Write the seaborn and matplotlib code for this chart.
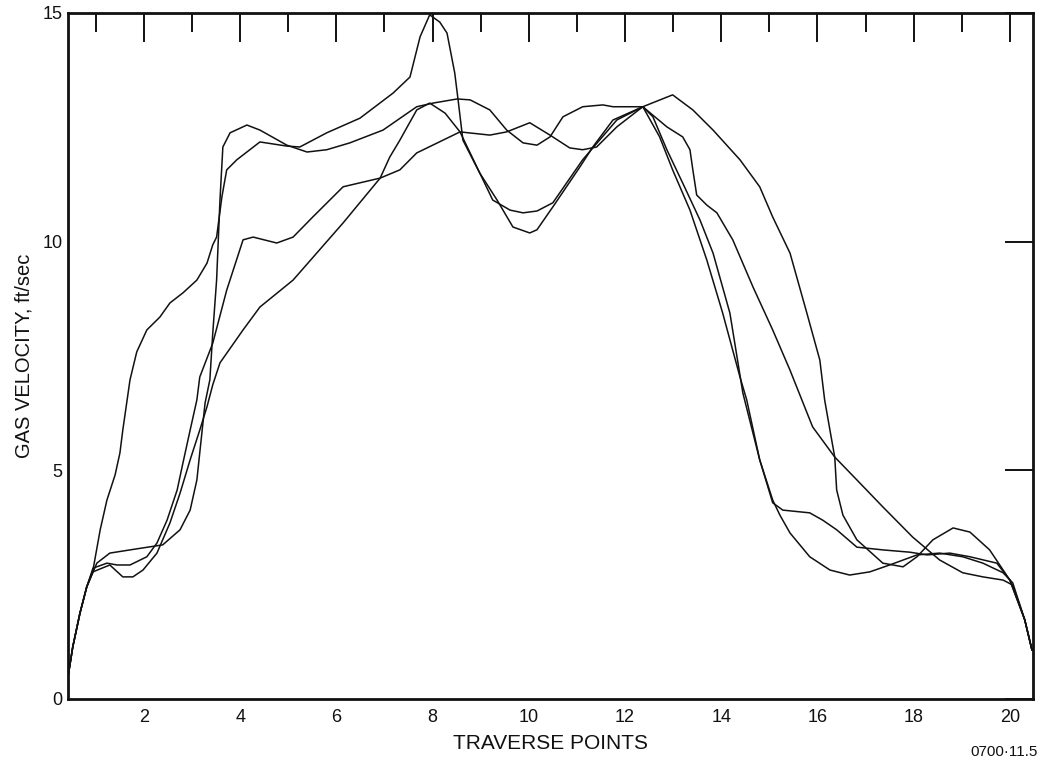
import pandas as pd
import numpy as np
import matplotlib
matplotlib.use('Agg')
import matplotlib.pyplot as plt
import seaborn as sns

# gas velocity traverse readings, four runs (ft/sec vs traverse point)
run1_x = [0.42, 0.52, 0.67, 0.81, 0.94, 1.09, 1.23, 1.40, 1.50, 1.56, 1.71, 1.85, 2.06, 2.33, 2.54, 2.81,
          3.10, 3.31, 3.43, 3.51, 3.62, 3.72, 3.93, 4.41, 4.97, 5.24, 5.80, 6.49, 7.18, 7.53, 7.74, 7.94,
          8.15, 8.30, 8.46, 8.53, 8.63, 8.98, 9.34, 9.67, 10.02, 10.17, 10.50, 11.06, 11.33, 11.75, 12.37,
          12.58, 12.87, 13.20, 13.56, 13.83, 14.18, 14.45, 14.80, 15.07, 15.22, 15.43, 15.84, 16.26, 16.67,
          17.09, 17.50, 18.07, 18.54, 19.02, 19.44, 19.86, 20.06, 20.31, 20.46]
run1_y = [0.48, 1.14, 1.88, 2.45, 2.82, 3.70, 4.35, 4.90, 5.38, 5.88, 6.98, 7.59, 8.07, 8.35, 8.66, 8.88,
          9.16, 9.53, 9.93, 10.10, 10.98, 11.57, 11.79, 12.18, 12.09, 12.07, 12.38, 12.70, 13.25, 13.60, 14.48, 14.96,
          14.80, 14.56, 13.69, 13.10, 12.22, 11.50, 10.91, 10.32, 10.19, 10.26, 10.76, 11.63, 12.07, 12.66, 12.95,
          12.73, 12.01, 11.28, 10.47, 9.75, 8.44, 6.69, 5.23, 4.35, 4.02, 3.63, 3.11, 2.82, 2.71,
          2.78, 2.93, 3.15, 3.19, 3.11, 2.97, 2.76, 2.54, 1.73, 1.07]

run2_x = [0.42, 0.52, 0.67, 0.81, 1.02, 1.29, 1.71, 2.39, 2.75, 2.96, 3.10, 3.21, 3.27, 3.37, 3.43, 3.51,
          3.58, 3.64, 3.79, 4.14, 4.41, 4.97, 5.39, 5.80, 6.28, 6.97, 7.67, 8.01, 8.51, 8.78, 9.19, 9.54,
          9.88, 10.17, 10.44, 10.71, 11.12, 11.54, 11.75, 12.37,
          12.99, 13.41, 13.83, 14.39, 14.80, 15.07, 15.43, 15.78, 16.05, 16.15, 16.26, 16.36, 16.40, 16.53,
          16.82, 17.36, 17.78, 18.07, 18.40, 18.82, 19.17, 19.58, 20.00, 20.31, 20.46]
run2_y = [0.48, 1.14, 1.88, 2.45, 2.97, 3.19, 3.26, 3.37, 3.70, 4.13, 4.79, 5.88, 6.47, 6.98, 8.00, 9.16,
          10.91, 12.07, 12.38, 12.55, 12.44, 12.11, 11.96, 12.01, 12.16, 12.44, 12.95, 13.03, 13.12, 13.10, 12.88, 12.44,
          12.16, 12.11, 12.29, 12.73, 12.95, 12.99, 12.95, 12.95,
          13.21, 12.88, 12.44, 11.79, 11.20, 10.54, 9.75, 8.44, 7.41, 6.54, 5.88, 5.29, 4.57, 4.02,
          3.48, 2.97, 2.89, 3.11, 3.48, 3.74, 3.65, 3.26, 2.60, 1.73, 1.07]

run3_x = [0.42, 0.52, 0.67, 0.81, 0.94, 1.29, 1.56, 1.77, 1.98, 2.27, 2.54, 2.75, 2.96, 3.16, 3.31, 3.43,
          3.58, 4.06, 4.41, 5.10, 6.14, 6.91, 7.11, 7.32, 7.67, 7.94, 8.26, 8.57, 9.25, 9.61, 9.88, 10.17,
          10.50, 11.12, 11.83, 12.37,
          12.87, 13.20, 13.35, 13.41, 13.49, 13.70, 13.91, 14.24, 14.66, 15.07, 15.43, 15.90, 16.36, 16.82,
          17.36, 17.98, 18.54, 19.02, 19.44, 19.86, 20.06, 20.31, 20.46]
run3_y = [0.48, 1.14, 1.88, 2.45, 2.78, 2.93, 2.67, 2.67, 2.82, 3.19, 3.85, 4.50, 5.23, 5.88, 6.39, 6.87,
          7.35, 8.07, 8.57, 9.16, 10.41, 11.39, 11.85, 12.22, 12.88, 13.03, 12.81, 12.40, 10.91, 10.69, 10.63, 10.67,
          10.85, 11.79, 12.66, 12.95,
          12.51, 12.29, 12.01, 11.57, 11.02, 10.80, 10.63, 10.04, 9.01, 8.07, 7.19, 5.95, 5.29, 4.79,
          4.20, 3.54, 3.04, 2.76, 2.67, 2.60, 2.49, 1.73, 1.07]

run4_x = [0.42, 0.52, 0.67, 0.81, 0.94, 1.23, 1.44, 1.71, 2.06, 2.27, 2.48, 2.69, 2.81, 2.96, 3.10, 3.16,
          3.43, 3.72, 4.06, 4.27, 4.76, 5.10, 5.51, 6.14, 6.91, 7.32, 7.67, 8.57, 9.19, 9.54, 10.02, 10.44,
          10.85, 11.12, 11.41, 11.83, 12.37,
          12.72, 12.99, 13.35, 13.70, 14.03, 14.39, 14.53, 14.80, 15.07, 15.28, 15.84, 16.11, 16.40, 16.82,
          17.36, 17.92, 18.28, 18.75, 19.17, 19.73, 20.00, 20.31, 20.46]
run4_y = [0.48, 1.14, 1.88, 2.45, 2.86, 2.97, 2.93, 2.93, 3.11, 3.41, 3.91, 4.57, 5.16, 5.88, 6.54, 7.04,
          7.78, 8.94, 10.04, 10.10, 9.97, 10.10, 10.54, 11.20, 11.39, 11.57, 11.94, 12.40, 12.33, 12.40, 12.60, 12.33,
          12.05, 12.01, 12.07, 12.51, 12.95,
          12.29, 11.57, 10.69, 9.60, 8.44, 7.04, 6.54, 5.23, 4.29, 4.13, 4.07, 3.91, 3.70, 3.32,
          3.26, 3.21, 3.15, 3.19, 3.11, 2.97, 2.60, 1.73, 1.07]

# axis ticks
x_major = [2, 4, 6, 8, 10, 12, 14, 16, 18, 20]
x_minor = [1, 3, 5, 7, 9, 11, 13, 15, 17, 19]
y_major = [0, 5, 10, 15]

# long form table for seaborn
frames = []
for name, xs, ys in [('run 1', run1_x, run1_y), ('run 2', run2_x, run2_y),
                     ('run 3', run3_x, run3_y), ('run 4', run4_x, run4_y)]:
    frames.append(pd.DataFrame({'point': xs, 'velocity': ys, 'run': name}))
traverse = pd.concat(frames, ignore_index=True)

sns.set_style('white')
plt.rcParams['font.family'] = ['Liberation Sans', 'DejaVu Sans']

fig = plt.figure(figsize=(10.44, 7.64), dpi=100)
ax = fig.add_axes([0.0651, 0.0851, 0.9243, 0.8979])

sns.lineplot(data=traverse, x='point', y='velocity', units='run', estimator=None,
             sort=False, color='#111111', linewidth=1.1, ax=ax)

ax.set_xlim(0.42, 20.48)
ax.set_ylim(0, 15)
ax.set_xticks(x_major)
ax.set_xticks(x_minor, minor=True)
ax.set_yticks(y_major)

ax.tick_params(axis='x', which='major', direction='in', length=21, width=1.4,
               top=True, labelsize=13, pad=7, colors='#111111')
ax.tick_params(axis='x', which='minor', direction='in', length=14, width=1.4, top=True, colors='#111111')
ax.tick_params(axis='y', which='major', direction='in', length=20, width=1.4,
               right=True, labelsize=13, pad=4, colors='#111111')

for side in ['left', 'right', 'top', 'bottom']:
    ax.spines[side].set_linewidth(2.0)
    ax.spines[side].set_color('#111111')

ax.set_xlabel('TRAVERSE POINTS', fontsize=15, labelpad=6, color='#111111')
ax.set_ylabel('GAS VELOCITY, ft/sec', fontsize=14.5, labelpad=6, color='#111111')

fig.text(0.994, 1 - 752 / 764, '0700\u00b711.5', ha='right', va='center', fontsize=11, color='#111111')

fig.savefig('out.png', dpi=100)
